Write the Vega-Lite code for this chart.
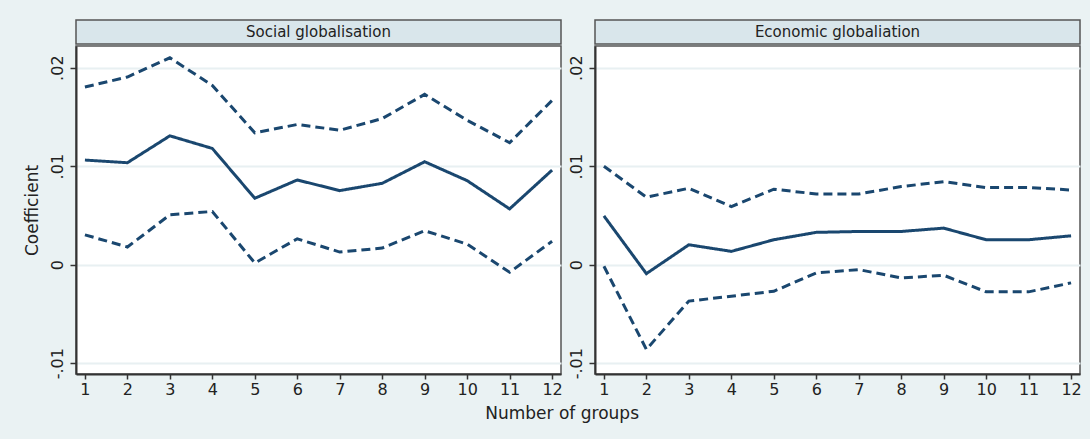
{
  "$schema": "https://vega.github.io/schema/vega-lite/v6.json",
  "background": "#eaf2f3",
  "padding": {"left": 22, "top": 19, "right": 10, "bottom": 18},
  "datasets": {
    "coef": [
      {"panel": "Social", "group": 1, "series": "coef", "value": 0.01062},
      {"panel": "Social", "group": 2, "series": "coef", "value": 0.01035},
      {"panel": "Social", "group": 3, "series": "coef", "value": 0.01308},
      {"panel": "Social", "group": 4, "series": "coef", "value": 0.0118},
      {"panel": "Social", "group": 5, "series": "coef", "value": 0.00674},
      {"panel": "Social", "group": 6, "series": "coef", "value": 0.0086},
      {"panel": "Social", "group": 7, "series": "coef", "value": 0.00752},
      {"panel": "Social", "group": 8, "series": "coef", "value": 0.00826},
      {"panel": "Social", "group": 9, "series": "coef", "value": 0.01045},
      {"panel": "Social", "group": 10, "series": "coef", "value": 0.00853},
      {"panel": "Social", "group": 11, "series": "coef", "value": 0.00566},
      {"panel": "Social", "group": 12, "series": "coef", "value": 0.0096},
      {"panel": "Social", "group": 1, "series": "lower", "value": 0.00303},
      {"panel": "Social", "group": 2, "series": "lower", "value": 0.00179},
      {"panel": "Social", "group": 3, "series": "lower", "value": 0.00506},
      {"panel": "Social", "group": 4, "series": "lower", "value": 0.0054},
      {"panel": "Social", "group": 5, "series": "lower", "value": 0.00017},
      {"panel": "Social", "group": 6, "series": "lower", "value": 0.00263},
      {"panel": "Social", "group": 7, "series": "lower", "value": 0.00128},
      {"panel": "Social", "group": 8, "series": "lower", "value": 0.00169},
      {"panel": "Social", "group": 9, "series": "lower", "value": 0.00344},
      {"panel": "Social", "group": 10, "series": "lower", "value": 0.00209},
      {"panel": "Social", "group": 11, "series": "lower", "value": -0.00077},
      {"panel": "Social", "group": 12, "series": "lower", "value": 0.00237},
      {"panel": "Social", "group": 1, "series": "upper", "value": 0.01804},
      {"panel": "Social", "group": 2, "series": "upper", "value": 0.01905},
      {"panel": "Social", "group": 3, "series": "upper", "value": 0.0210},
      {"panel": "Social", "group": 4, "series": "upper", "value": 0.0182},
      {"panel": "Social", "group": 5, "series": "upper", "value": 0.01339},
      {"panel": "Social", "group": 6, "series": "upper", "value": 0.01423},
      {"panel": "Social", "group": 7, "series": "upper", "value": 0.01365},
      {"panel": "Social", "group": 8, "series": "upper", "value": 0.01483},
      {"panel": "Social", "group": 9, "series": "upper", "value": 0.01729},
      {"panel": "Social", "group": 10, "series": "upper", "value": 0.01466},
      {"panel": "Social", "group": 11, "series": "upper", "value": 0.01238},
      {"panel": "Social", "group": 12, "series": "upper", "value": 0.01668},
      {"panel": "Economic", "group": 1, "series": "coef", "value": 0.00495},
      {"panel": "Economic", "group": 2, "series": "coef", "value": -0.00091},
      {"panel": "Economic", "group": 3, "series": "coef", "value": 0.00202},
      {"panel": "Economic", "group": 4, "series": "coef", "value": 0.00135},
      {"panel": "Economic", "group": 5, "series": "coef", "value": 0.00253},
      {"panel": "Economic", "group": 6, "series": "coef", "value": 0.00328},
      {"panel": "Economic", "group": 7, "series": "coef", "value": 0.00337},
      {"panel": "Economic", "group": 8, "series": "coef", "value": 0.00337},
      {"panel": "Economic", "group": 9, "series": "coef", "value": 0.00371},
      {"panel": "Economic", "group": 10, "series": "coef", "value": 0.00253},
      {"panel": "Economic", "group": 11, "series": "coef", "value": 0.00253},
      {"panel": "Economic", "group": 12, "series": "coef", "value": 0.00293},
      {"panel": "Economic", "group": 1, "series": "lower", "value": -0.00016},
      {"panel": "Economic", "group": 2, "series": "lower", "value": -0.0086},
      {"panel": "Economic", "group": 3, "series": "lower", "value": -0.0037},
      {"panel": "Economic", "group": 4, "series": "lower", "value": -0.0032},
      {"panel": "Economic", "group": 5, "series": "lower", "value": -0.0027},
      {"panel": "Economic", "group": 6, "series": "lower", "value": -0.00084},
      {"panel": "Economic", "group": 7, "series": "lower", "value": -0.0005},
      {"panel": "Economic", "group": 8, "series": "lower", "value": -0.00135},
      {"panel": "Economic", "group": 9, "series": "lower", "value": -0.00107},
      {"panel": "Economic", "group": 10, "series": "lower", "value": -0.00276},
      {"panel": "Economic", "group": 11, "series": "lower", "value": -0.00276},
      {"panel": "Economic", "group": 12, "series": "lower", "value": -0.00185},
      {"panel": "Economic", "group": 1, "series": "upper", "value": 0.0100},
      {"panel": "Economic", "group": 2, "series": "upper", "value": 0.00685},
      {"panel": "Economic", "group": 3, "series": "upper", "value": 0.00776},
      {"panel": "Economic", "group": 4, "series": "upper", "value": 0.0059},
      {"panel": "Economic", "group": 5, "series": "upper", "value": 0.00766},
      {"panel": "Economic", "group": 6, "series": "upper", "value": 0.00718},
      {"panel": "Economic", "group": 7, "series": "upper", "value": 0.00718},
      {"panel": "Economic", "group": 8, "series": "upper", "value": 0.00793},
      {"panel": "Economic", "group": 9, "series": "upper", "value": 0.00843},
      {"panel": "Economic", "group": 10, "series": "upper", "value": 0.00783},
      {"panel": "Economic", "group": 11, "series": "upper", "value": 0.00783},
      {"panel": "Economic", "group": 12, "series": "upper", "value": 0.00758}
    ]
  },
  "title": {
    "text": "Number of groups",
    "orient": "bottom",
    "anchor": "middle",
    "frame": "bounds",
    "font": "DejaVu Sans",
    "fontSize": 17,
    "fontWeight": "normal",
    "color": "#222222",
    "offset": 8,
    "dx": 10
  },
  "spacing": 3,
  "hconcat": [
    {
      "spacing": 0,
      "vconcat": [
        {
          "width": 485,
          "height": 24,
          "data": {"values": [{"label": "Social globalisation"}]},
          "mark": {"type": "text", "fontSize": 15, "color": "#222222", "font": "DejaVu Sans"},
          "encoding": {"text": {"field": "label", "type": "nominal"}},
          "view": {"fill": "#d9e6eb", "stroke": "#555555", "strokeWidth": 1.5}
        },
        {
          "width": 485,
          "height": 328,
          "data": {"name": "coef"},
          "transform": [{"filter": "datum.panel == 'Social'"}],
          "mark": {"type": "line", "strokeWidth": 3, "color": "#1a476f"},
          "encoding": {
            "x": {
              "field": "group",
              "type": "quantitative",
              "scale": {"domain": [0.79, 12.21], "nice": false, "zero": false},
              "axis": {"values": [1, 2, 3, 4, 5, 6, 7, 8, 9, 10, 11, 12], "title": null, "grid": false}
            },
            "y": {
              "field": "value",
              "type": "quantitative",
              "scale": {"domain": [-0.0111, 0.0222], "nice": false, "zero": false},
              "axis": {
                "values": [-0.01, 0, 0.01, 0.02],
                "title": "Coefficient",
                "labelExpr": "datum.value == 0 ? '0' : (datum.value < 0 ? '-' : '') + replace(format(abs(datum.value), '.2f'), '0.', '.')"
              }
            },
            "strokeDash": {
              "field": "series",
              "type": "nominal",
              "scale": {"domain": ["coef", "lower", "upper"], "range": [[1, 0], [9, 5], [9, 5]]},
              "legend": null
            }
          }
        }
      ]
    },
    {
      "spacing": 0,
      "vconcat": [
        {
          "width": 485,
          "height": 24,
          "data": {"values": [{"label": "Economic globaliation"}]},
          "mark": {"type": "text", "fontSize": 15, "color": "#222222", "font": "DejaVu Sans"},
          "encoding": {"text": {"field": "label", "type": "nominal"}},
          "view": {"fill": "#d9e6eb", "stroke": "#555555", "strokeWidth": 1.5}
        },
        {
          "width": 485,
          "height": 328,
          "data": {"name": "coef"},
          "transform": [{"filter": "datum.panel == 'Economic'"}],
          "mark": {"type": "line", "strokeWidth": 3, "color": "#1a476f"},
          "encoding": {
            "x": {
              "field": "group",
              "type": "quantitative",
              "scale": {"domain": [0.79, 12.21], "nice": false, "zero": false},
              "axis": {"values": [1, 2, 3, 4, 5, 6, 7, 8, 9, 10, 11, 12], "title": null, "grid": false}
            },
            "y": {
              "field": "value",
              "type": "quantitative",
              "scale": {"domain": [-0.0111, 0.0222], "nice": false, "zero": false},
              "axis": {
                "values": [-0.01, 0, 0.01, 0.02],
                "title": null,
                "labelExpr": "datum.value == 0 ? '0' : (datum.value < 0 ? '-' : '') + replace(format(abs(datum.value), '.2f'), '0.', '.')"
              }
            },
            "strokeDash": {
              "field": "series",
              "type": "nominal",
              "scale": {"domain": ["coef", "lower", "upper"], "range": [[1, 0], [9, 5], [9, 5]]},
              "legend": null
            }
          }
        }
      ]
    }
  ],
  "config": {
    "font": "DejaVu Sans",
    "view": {"fill": "#ffffff", "stroke": "#555555", "strokeWidth": 1.5},
    "axis": {
      "labelFont": "DejaVu Sans",
      "titleFont": "DejaVu Sans",
      "labelColor": "#222222",
      "titleColor": "#222222",
      "labelFontSize": 16,
      "titleFontSize": 17,
      "titleFontWeight": "normal",
      "domainColor": "#333333",
      "domainWidth": 2,
      "tickColor": "#333333",
      "tickWidth": 1.5,
      "gridColor": "#e8f0f2",
      "gridWidth": 2
    },
    "axisX": {"tickSize": 5, "labelPadding": 2, "labelFlush": false, "labelOverlap": false},
    "axisY": {"tickSize": 6, "labelPadding": 5, "labelAngle": 270, "labelAlign": "center", "labelBaseline": "bottom", "titlePadding": 8, "grid": true, "labelFlush": false, "labelOverlap": false}
  }
}
